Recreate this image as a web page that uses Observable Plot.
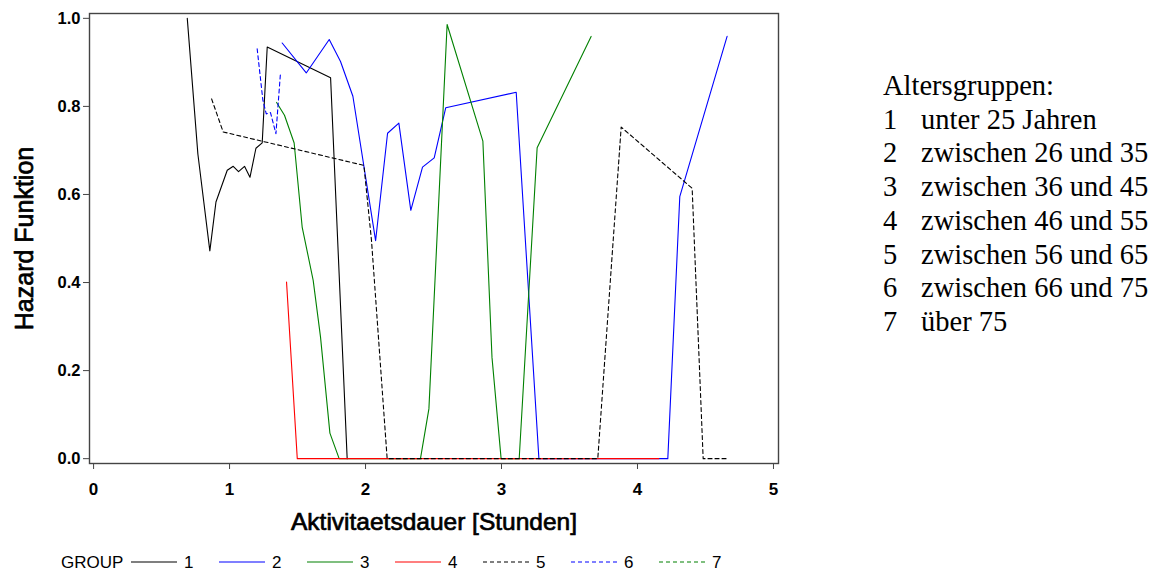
<!DOCTYPE html>
<html>
<head>
<meta charset="utf-8">
<script src="https://cdn.jsdelivr.net/npm/d3@7"></script>
<script src="https://cdn.jsdelivr.net/npm/@observablehq/plot@0.6"></script>
<style>
  body { margin: 0; background: #fff; }
  #wrap { position: relative; width: 1162px; height: 573px; overflow: hidden; background: #fff; }
  #chart { position: absolute; left: 0; top: 0; }
  #legend { position: absolute; left: 0; top: 540px; width: 800px; height: 33px;
            font: 17px "Liberation Sans", Arial, sans-serif; color: #000; }
  #legend .lab { position: absolute; top: 22px; line-height: 17px; transform: translateY(-50%); white-space: nowrap; }
  #legend svg { position: absolute; top: 18px; }
  #groups { position: absolute; left: 883px; top: 69px;
            font: 28.5px "Liberation Serif", "Times New Roman", serif; line-height: 33.7px; color: #000; }
  #groups .num { display: inline-block; width: 38px; }
</style>
</head>
<body>
<div id="wrap">
  <div id="chart"></div>
  <div id="legend"></div>
  <div id="groups"></div>
</div>
<script>
// Hazard function by age group: duration in hours (x) vs. hazard (y)
const groupIds = ["1", "2", "3", "4", "5", "6", "7"];
const groupColors = ["#000000", "#0000ff", "#008000", "#ff0000", "#000000", "#0000ff", "#008000"];
const groupDashed = [false, false, false, false, true, true, true];
const groupNames = [
  "unter 25 Jahren",
  "zwischen 26 und 35",
  "zwischen 36 und 45",
  "zwischen 46 und 55",
  "zwischen 56 und 65",
  "zwischen 66 und 75",
  "über 75"
];

const group1X = [0.689, 0.767, 0.855, 0.900, 0.983, 1.027, 1.066, 1.110, 1.150, 1.194, 1.240, 1.277, 1.743, 1.865];
const group1Y = [1.000, 0.692, 0.472, 0.583, 0.655, 0.664, 0.652, 0.664, 0.639, 0.705, 0.717, 0.935, 0.865, 0.000];

const group2X = [1.387, 1.564, 1.733, 1.816, 1.907, 2.074, 2.162, 2.245, 2.333, 2.419, 2.505, 2.590, 3.108, 3.275, 4.223, 4.311, 4.659];
const group2Y = [0.944, 0.876, 0.952, 0.902, 0.823, 0.495, 0.739, 0.762, 0.564, 0.662, 0.683, 0.797, 0.832, 0.000, 0.000, 0.595, 0.959];

const group3X = [1.346, 1.404, 1.475, 1.534, 1.615, 1.669, 1.738, 1.806, 2.404, 2.466, 2.600, 2.863, 2.930, 2.997, 3.130, 3.262, 3.659];
const group3Y = [0.809, 0.780, 0.717, 0.526, 0.405, 0.276, 0.058, 0.000, 0.000, 0.113, 0.986, 0.721, 0.230, 0.000, 0.000, 0.706, 0.959];

const group4X = [1.419, 1.498, 4.157];
const group4Y = [0.401, 0.000, 0.000];

const group5X = [0.868, 0.953, 1.988, 2.044, 2.159, 3.708, 3.880, 4.402, 4.483, 4.659];
const group5Y = [0.817, 0.742, 0.666, 0.495, 0.000, 0.000, 0.753, 0.614, 0.000, 0.000];

const group6X = [1.203, 1.245, 1.270, 1.301, 1.341, 1.375];
const group6Y = [0.931, 0.814, 0.783, 0.786, 0.738, 0.878];

const group7X = [];
const group7Y = [];

const xTicks = [0, 1, 2, 3, 4, 5];
const yTicks = [0, 0.2, 0.4, 0.6, 0.8, 1.0];
const xTitle = "Aktivitaetsdauer [Stunden]";
const yTitle = "Hazard Funktion";
const legendTitle = "GROUP";
const groupsHeading = "Altersgruppen:";

const seriesX = [group1X, group2X, group3X, group4X, group5X, group6X, group7X];
const seriesY = [group1Y, group2Y, group3Y, group4Y, group5Y, group6Y, group7Y];

const series = groupIds.map((g, i) => ({
  group: g,
  color: groupColors[i],
  dashed: groupDashed[i],
  rows: seriesX[i].map((x, j) => ({x, y: seriesY[i][j]}))
}));

const lineMarks = series.map(s =>
  Plot.line(s.rows, {
    x: "x", y: "y",
    stroke: s.color,
    strokeWidth: 1.1,
    strokeDasharray: s.dashed ? "4,3" : null
  })
);

const chart = Plot.plot({
  width: 800,
  height: 540,
  marginLeft: 89,
  marginRight: 22,
  marginTop: 13,
  marginBottom: 77,
  style: { fontFamily: "'Liberation Sans', Arial, sans-serif", background: "#fff", color: "#000" },
  x: { domain: [-0.03, 5.037] },
  y: { domain: [-0.011, 1.011] },
  marks: [
    ...lineMarks,
    Plot.frame({ stroke: "#444", strokeWidth: 1.4 }),
    Plot.axisX({ ticks: xTicks, tickSize: 6, tickPadding: 13, tickFormat: d3.format("d"),
                 fontSize: 17, fontWeight: "bold", stroke: "#444", label: null }),
    Plot.axisY({ ticks: yTicks, tickSize: 6, tickPadding: 3, tickFormat: d3.format(".1f"),
                 fontSize: 16.5, fontWeight: "bold", stroke: "#444", label: null }),
    Plot.text([xTitle], { frameAnchor: "bottom", dy: 59, fontSize: 24.5, lineAnchor: "middle",
                          textAnchor: "middle", fill: "#000", stroke: "#000", strokeWidth: 0.7 }),
    Plot.text([yTitle], { frameAnchor: "left", dx: -65, rotate: -90, fontSize: 25, lineAnchor: "middle",
                          textAnchor: "middle", fill: "#000", stroke: "#000", strokeWidth: 0.7 })
  ]
});
document.getElementById("chart").appendChild(chart);

// Bottom legend: GROUP ── 1  ── 2 ...
const legend = document.getElementById("legend");
const lt = document.createElement("span");
lt.className = "lab";
lt.style.left = "61px";
lt.textContent = legendTitle;
legend.appendChild(lt);
series.forEach((s, i) => {
  const x0 = 131 + 88 * i;
  const sw = document.createElementNS("http://www.w3.org/2000/svg", "svg");
  sw.setAttribute("width", 46);
  sw.setAttribute("height", 8);
  sw.style.left = x0 + "px";
  const ln = document.createElementNS("http://www.w3.org/2000/svg", "line");
  ln.setAttribute("x1", 0); ln.setAttribute("x2", 46);
  ln.setAttribute("y1", 4); ln.setAttribute("y2", 4);
  ln.setAttribute("stroke", s.color);
  ln.setAttribute("stroke-width", 1.1);
  if (s.dashed) ln.setAttribute("stroke-dasharray", "4,3");
  sw.appendChild(ln);
  legend.appendChild(sw);
  const lb = document.createElement("span");
  lb.className = "lab";
  lb.style.left = (x0 + 53) + "px";
  lb.textContent = s.group;
  legend.appendChild(lb);
});

// Age group key on the right
const groupsBox = document.getElementById("groups");
const head = document.createElement("div");
head.textContent = groupsHeading;
groupsBox.appendChild(head);
groupIds.forEach((g, i) => {
  const row = document.createElement("div");
  const n = document.createElement("span");
  n.className = "num";
  n.textContent = g;
  row.appendChild(n);
  row.appendChild(document.createTextNode(groupNames[i]));
  groupsBox.appendChild(row);
});
</script>
</body>
</html>
